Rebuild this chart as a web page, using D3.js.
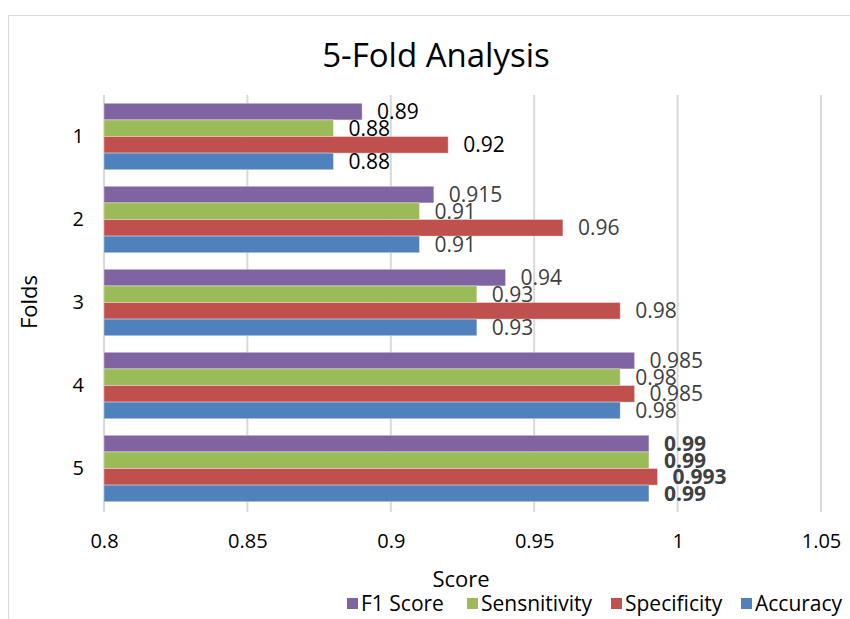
<!DOCTYPE html>
<html lang="en">
<head>
    <meta charset="UTF-8">
    <title>5-Fold Analysis</title>
    <script src="https://d3js.org/d3.v7.min.js"></script>
    <style>
        body { margin: 0; background: #fff; font-family: "Open Sans", sans-serif; }
        .grid line { stroke: #d9d9d9; stroke-width: 2; }
        .axis text { font-size: 20px; fill: #000; font-family: "Open Sans", sans-serif; }
        .label { font-size: 21px; }
    </style>
</head>
<body>
    <svg width="850" height="619"></svg>

    <script>
        const folds = ["1", "2", "3", "4", "5"];
        const seriesNames = ["F1 Score", "Sensnitivity", "Specificity", "Accuracy"];
        const f1Score = [0.89, 0.915, 0.94, 0.985, 0.99];
        const sensitivity = [0.88, 0.91, 0.93, 0.98, 0.99];
        const specificity = [0.92, 0.96, 0.98, 0.985, 0.993];
        const accuracy = [0.88, 0.91, 0.93, 0.98, 0.99];
        const xTicks = [0.8, 0.85, 0.9, 0.95, 1, 1.05];

        const colors = ["#8064A2", "#9BBB59", "#C0504D", "#4F81BD"];
        const seriesValues = [f1Score, sensitivity, specificity, accuracy];

        const svg = d3.select("svg");

        // chart border
        svg.append("rect")
            .attr("x", 8.5).attr("y", 15.5)
            .attr("width", 900).attr("height", 700)
            .attr("fill", "none").attr("stroke", "#d9d9d9");

        const x = d3.scaleLinear().domain([0.8, 1.05]).range([104, 821]);
        const y = d3.scaleBand().domain(folds).range([95, 510]).paddingInner(0.2).paddingOuter(0.1);
        const yInner = d3.scaleBand().domain(seriesNames).range([0, y.bandwidth()]);

        // gridlines
        svg.append("g").attr("class", "grid")
            .selectAll("line").data(xTicks).join("line")
            .attr("x1", d => x(d)).attr("x2", d => x(d))
            .attr("y1", 95).attr("y2", 512);

        // x tick labels
        const xAxis = svg.append("g").attr("class", "axis")
            .attr("transform", "translate(0,531)")
            .call(d3.axisBottom(x).tickValues(xTicks).tickSize(0).tickFormat(d => String(+d.toFixed(2))));
        xAxis.select(".domain").remove();

        // y category labels
        const yAxis = svg.append("g").attr("class", "axis")
            .attr("transform", "translate(90,0)")
            .call(d3.axisLeft(y).tickSize(0).tickPadding(6));
        yAxis.select(".domain").remove();

        const rows = folds.map((f, i) => seriesNames.map((s, j) => ({ fold: f, idx: i, series: s, si: j, value: seriesValues[j][i] })));

        const groups = svg.append("g").selectAll("g").data(rows).join("g")
            .attr("transform", d => `translate(0,${y(d[0].fold)})`);

        groups.selectAll("rect").data(d => d).join("rect")
            .attr("x", x(0.8))
            .attr("y", d => yInner(d.series))
            .attr("width", d => x(d.value) - x(0.8))
            .attr("height", yInner.bandwidth())
            .attr("fill", d => colors[d.si])
            .attr("stroke", "rgba(255,255,255,0.35)");

        groups.selectAll("text").data(d => d).join("text")
            .attr("class", "label")
            .attr("x", d => x(d.value) + 15)
            .attr("y", d => yInner(d.series) + yInner.bandwidth() / 2 + 2)
            .attr("dominant-baseline", "middle")
            .attr("fill", d => d.idx === 0 ? "#000" : "#404040")
            .attr("font-weight", d => d.idx === 4 ? "bold" : "normal")
            .text(d => d.value);

        // title and axis titles
        svg.append("text")
            .attr("x", 436).attr("y", 67)
            .attr("text-anchor", "middle")
            .attr("font-size", 33)
            .text("5-Fold Analysis");

        svg.append("text")
            .attr("x", 461).attr("y", 587)
            .attr("text-anchor", "middle")
            .attr("font-size", 22)
            .text("Score");

        svg.append("text")
            .attr("transform", "translate(37,302) rotate(-90)")
            .attr("text-anchor", "middle")
            .attr("font-size", 22)
            .text("Folds");

        // legend
        const legendX = [347, 467, 611, 741];
        const legend = svg.append("g").selectAll("g").data(seriesNames).join("g")
            .attr("transform", (d, i) => `translate(${legendX[i]},604)`);
        legend.append("rect")
            .attr("x", 0).attr("y", -6).attr("width", 11).attr("height", 11)
            .attr("fill", (d, i) => colors[i]);
        legend.append("text")
            .attr("x", 14).attr("y", 1)
            .attr("dominant-baseline", "middle")
            .attr("font-size", 21)
            .text(d => d);
    </script>
</body>
</html>
